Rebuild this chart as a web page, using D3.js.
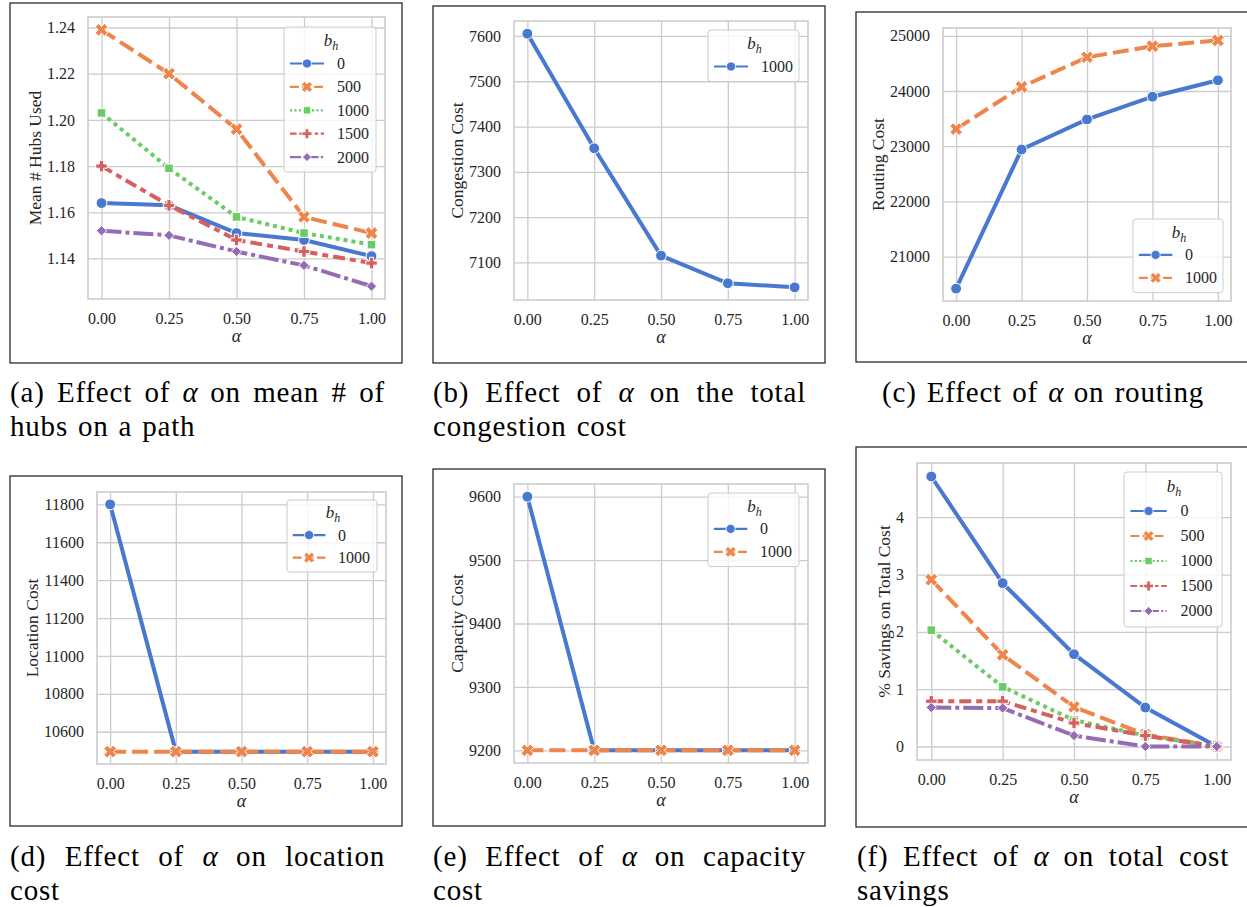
<!DOCTYPE html>
<html>
<head>
<meta charset="utf-8">
<script src="https://cdn.jsdelivr.net/npm/d3@7"></script>
<style>
  body { margin: 0; background: #fff; }
  svg { display: block; font-family: "Liberation Serif", "Times New Roman", serif; }
</style>
</head>
<body>
<svg id="fig" width="1247" height="907"></svg>
<script>
// ---- data ----
var alphaValues = [0, 0.25, 0.5, 0.75, 1.0];
var xTickValues = [0, 0.25, 0.5, 0.75, 1.0];

// (a) mean # hubs used
var hubsLevels = ["0", "500", "1000", "1500", "2000"];
var hubs0    = [1.164, 1.163, 1.151, 1.148, 1.141];
var hubs500  = [1.239, 1.220, 1.196, 1.158, 1.151];
var hubs1000 = [1.203, 1.179, 1.158, 1.151, 1.146];
var hubs1500 = [1.180, 1.163, 1.148, 1.143, 1.138];
var hubs2000 = [1.152, 1.150, 1.143, 1.137, 1.128];
var hubsTicks = [1.14, 1.16, 1.18, 1.20, 1.22, 1.24];

// (b) congestion cost
var congestionLevels = ["1000"];
var congestion1000 = [7605, 7352, 7115, 7054, 7045];
var congestionTicks = [7100, 7200, 7300, 7400, 7500, 7600];

// (c) routing cost
var routingLevels = ["0", "1000"];
var routing0    = [20420, 22940, 23485, 23897, 24195];
var routing1000 = [23310, 24075, 24612, 24812, 24917];
var routingTicks = [21000, 22000, 23000, 24000, 25000];

// (d) location cost
var locationLevels = ["0", "1000"];
var location0    = [11800, 10495, 10495, 10495, 10495];
var location1000 = [10495, 10495, 10495, 10495, 10495];
var locationTicks = [10600, 10800, 11000, 11200, 11400, 11600, 11800];

// (e) capacity cost
var capacityLevels = ["0", "1000"];
var capacity0    = [9600, 9200, 9200, 9200, 9200];
var capacity1000 = [9200, 9200, 9200, 9200, 9200];
var capacityTicks = [9200, 9300, 9400, 9500, 9600];

// (f) % savings on total cost
var savingsLevels = ["0", "500", "1000", "1500", "2000"];
var savings0    = [4.71, 2.85, 1.61, 0.68, 0.0];
var savings500  = [2.91, 1.60, 0.69, 0.21, 0.0];
var savings1000 = [2.03, 1.04, 0.46, 0.19, 0.0];
var savings1500 = [0.79, 0.79, 0.41, 0.19, 0.0];
var savings2000 = [0.68, 0.67, 0.19, 0.0, 0.0];
var savingsTicks = [0, 1, 2, 3, 4];

// ---- style (seaborn muted / default dashes & markers) ----
var colours = ["#4878d0", "#ee854a", "#6acc64", "#d65f5f", "#956cb4"];
var dashUnits = [null, [4, 1.5], [1, 1], [3, 1.25, 1.5, 1.25], [5, 1, 1, 1]];
var markerTypes = ["o", "X", "s", "P", "D"];
var textCol = "#262626";
var gridCol = "#cccccc";

var svg = d3.select("#fig");

function markerPath(type, k) {
  if (type == "o") { var r = 5.4 * k; return d3.symbol(d3.symbolCircle, Math.PI * r * r)(); }
  if (type == "s") { var s = 4.3 * k; return "M" + (-s) + "," + (-s) + "H" + s + "V" + s + "H" + (-s) + "Z"; }
  if (type == "D") { var d = 5.2 * k; return "M0," + (-d) + "L" + d + ",0L0," + d + "L" + (-d) + ",0Z"; }
  var a = (type == "X" ? 6.6 : 5.8) * k, w = a * 0.36;
  var pts = [[-w,-a],[w,-a],[w,-w],[a,-w],[a,w],[w,w],[w,a],[-w,a],[-w,w],[-a,w],[-a,-w],[-w,-w]];
  if (type == "X") pts = pts.map(function(p) { return [(p[0] - p[1]) / Math.SQRT2, (p[0] + p[1]) / Math.SQRT2]; });
  return "M" + pts.map(function(p) { return p[0].toFixed(2) + "," + p[1].toFixed(2); }).join("L") + "Z";
}

function dashFor(i, lw) {
  return dashUnits[i] ? dashUnits[i].map(function(v) { return v * lw; }).join(",") : null;
}

function drawPanel(p) {
  var g = svg.append("g");
  // figure frame
  g.append("rect")
    .attr("x", p.frame[0]).attr("y", p.frame[1])
    .attr("width", p.frame[2] - p.frame[0]).attr("height", p.frame[3] - p.frame[1])
    .attr("fill", "#fff").attr("stroke", "#2a2a2a").attr("stroke-width", 1.3);

  var ax = p.ax;
  var all = d3.merge(p.series);
  var lo = d3.min(all), hi = d3.max(all), pad = (hi - lo) * 0.05;
  var x = d3.scaleLinear().domain([-0.05, 1.05]).range([ax[0], ax[2]]);
  var y = d3.scaleLinear().domain([lo - pad, hi + pad]).range([ax[3], ax[1]]);

  // x axis + vertical grid
  var gx = g.append("g")
    .attr("transform", "translate(0," + ax[3] + ")")
    .call(d3.axisBottom(x).tickValues(xTickValues).tickFormat(d3.format(".2f"))
      .tickSizeInner(-(ax[3] - ax[1])).tickSizeOuter(0).tickPadding(13.5));
  // y axis + horizontal grid
  var gy = g.append("g")
    .attr("transform", "translate(" + ax[0] + ",0)")
    .call(d3.axisLeft(y).tickValues(p.yTicks).tickFormat(p.yFormat)
      .tickSizeInner(-(ax[2] - ax[0])).tickSizeOuter(0).tickPadding(13));
  [gx, gy].forEach(function(a) {
    a.select(".domain").remove();
    a.selectAll("line").attr("stroke", gridCol).attr("stroke-width", 1.3);
    a.selectAll("text").attr("fill", textCol).attr("font-size", 16)
      .attr("font-family", "Liberation Serif, serif");
  });

  // spines
  g.append("rect")
    .attr("x", ax[0]).attr("y", ax[1]).attr("width", ax[2] - ax[0]).attr("height", ax[3] - ax[1])
    .attr("fill", "none").attr("stroke", gridCol).attr("stroke-width", 1.6);

  // series: line then markers, in hue order
  var line = d3.line().x(function(d, i) { return x(alphaValues[i]); }).y(function(d) { return y(d); });
  p.series.forEach(function(vals, si) {
    g.append("path")
      .attr("d", line(vals))
      .attr("fill", "none")
      .attr("stroke", colours[si])
      .attr("stroke-width", 4)
      .attr("stroke-dasharray", dashFor(si, 4));
    g.selectAll(null)
      .data(vals)
      .enter().append("path")
      .attr("transform", function(d, i) { return "translate(" + x(alphaValues[i]) + "," + y(d) + ")"; })
      .attr("d", markerPath(markerTypes[si], 1))
      .attr("fill", colours[si])
      .attr("stroke", "#fff").attr("stroke-width", 1);
  });

  // axis labels
  g.append("text")
    .attr("x", (ax[0] + ax[2]) / 2).attr("y", ax[3] + 43)
    .attr("text-anchor", "middle").attr("font-size", 18).attr("font-style", "italic")
    .attr("fill", textCol).text("α");
  var bb = gy.node().getBBox();
  var lx = ax[0] + bb.x - 6;
  var ly = (ax[1] + ax[3]) / 2;
  g.append("text")
    .attr("transform", "translate(" + lx + "," + ly + ") rotate(-90)")
    .attr("text-anchor", "middle").attr("font-size", 17.5)
    .attr("fill", textCol).text(p.yLabel);

  // legend
  var L = p.legend, k = L.rowH / 23.4, n = p.levels.length;
  var boxH = 36.5 * k + (n - 1) * L.rowH + 15 * k;
  var lg = g.append("g").attr("transform", "translate(" + L.x + "," + L.y + ")");
  lg.append("rect")
    .attr("width", L.w).attr("height", boxH).attr("rx", 3)
    .attr("fill", "#fff").attr("fill-opacity", 0.8)
    .attr("stroke", gridCol).attr("stroke-width", 1);
  var title = lg.append("text")
    .attr("x", L.w / 2 + 1).attr("y", 19 * k)
    .attr("text-anchor", "middle").attr("font-size", 17).attr("fill", textCol);
  title.append("tspan").attr("font-style", "italic").text("b");
  title.append("tspan").attr("font-style", "italic").attr("font-size", 12).attr("dy", 4).text("h");
  p.levels.forEach(function(lev, i) {
    var ry = 36.5 * k + i * L.rowH;
    lg.append("line")
      .attr("x1", 6 * k).attr("x2", 40 * k).attr("y1", ry).attr("y2", ry)
      .attr("stroke", colours[i]).attr("stroke-width", 2.2)
      .attr("stroke-dasharray", dashFor(i, 2.2));
    lg.append("path")
      .attr("transform", "translate(" + (23 * k) + "," + ry + ")")
      .attr("d", markerPath(markerTypes[i], 0.85))
      .attr("fill", colours[i]).attr("stroke", "#fff").attr("stroke-width", 0.8);
    lg.append("text")
      .attr("x", 53 * k).attr("y", ry + 5.5)
      .attr("font-size", 16).attr("fill", textCol).text(lev);
  });
}

// caption lines, justified like LaTeX subcaptions
function captionLine(words, x0, x1, yb, justify) {
  var nodes = words.map(function(w) {
    return svg.append("text").attr("y", yb).attr("font-size", 29).attr("fill", "#000")
      .attr("letter-spacing", w == "α" ? 0 : 0.8)
      .attr("font-style", w == "α" ? "italic" : null).text(w);
  });
  var widths = nodes.map(function(nd) { return nd.node().getComputedTextLength(); });
  var gap = justify ? (x1 - x0 - d3.sum(widths)) / (words.length - 1) : 10;
  var cx = x0;
  nodes.forEach(function(nd, i) { nd.attr("x", cx); cx += widths[i] + gap; });
}

var fmt2 = d3.format(".2f"), fmt0 = d3.format("d");

drawPanel({
  frame: [10, 3, 402, 363], ax: [88, 17, 385, 299],
  series: [hubs0, hubs500, hubs1000, hubs1500, hubs2000], levels: hubsLevels,
  yTicks: hubsTicks, yFormat: fmt2, yLabel: "Mean # Hubs Used",
  legend: { x: 284, y: 27, w: 92, rowH: 23.4 }
});
drawPanel({
  frame: [433, 6, 825, 363], ax: [514, 21, 808, 300],
  series: [congestion1000], levels: congestionLevels,
  yTicks: congestionTicks, yFormat: fmt0, yLabel: "Congestion Cost",
  legend: { x: 708, y: 30, w: 91, rowH: 23.4 }
});
drawPanel({
  frame: [856, 12, 1260, 362], ax: [943, 28, 1231, 301],
  series: [routing0, routing1000], levels: routingLevels,
  yTicks: routingTicks, yFormat: fmt0, yLabel: "Routing Cost",
  legend: { x: 1133, y: 219, w: 90, rowH: 23 }
});
drawPanel({
  frame: [10, 476, 402, 826], ax: [97, 492, 386, 764],
  series: [location0, location1000], levels: locationLevels,
  yTicks: locationTicks, yFormat: fmt0, yLabel: "Location Cost",
  legend: { x: 287, y: 500, w: 90, rowH: 22.5 }
});
drawPanel({
  frame: [433, 469, 825, 826], ax: [514, 484, 808, 763],
  series: [capacity0, capacity1000], levels: capacityLevels,
  yTicks: capacityTicks, yFormat: fmt0, yLabel: "Capacity Cost",
  legend: { x: 708, y: 493, w: 91, rowH: 23 }
});
drawPanel({
  frame: [856, 447, 1260, 827], ax: [917, 463, 1231, 760],
  series: [savings0, savings500, savings1000, savings1500, savings2000], levels: savingsLevels,
  yTicks: savingsTicks, yFormat: fmt0, yLabel: "% Savings on Total Cost",
  legend: { x: 1124, y: 472, w: 98, rowH: 25 }
});

// captions
captionLine(["(a)", "Effect", "of", "α", "on", "mean", "#", "of"], 10, 385, 402, true);
captionLine(["hubs", "on", "a", "path"], 10, 0, 436, false);
captionLine(["(b)", "Effect", "of", "α", "on", "the", "total"], 433, 806, 402, true);
captionLine(["congestion", "cost"], 433, 0, 436, false);
captionLine(["(c)", "Effect", "of", "α", "on", "routing"], 882, 1204, 402, true);
captionLine(["(d)", "Effect", "of", "α", "on", "location"], 10, 385, 866, true);
captionLine(["cost"], 10, 0, 900, false);
captionLine(["(e)", "Effect", "of", "α", "on", "capacity"], 433, 806, 866, true);
captionLine(["cost"], 433, 0, 900, false);
captionLine(["(f)", "Effect", "of", "α", "on", "total", "cost"], 857, 1229, 866, true);
captionLine(["savings"], 857, 0, 900, false);
</script>
</body>
</html>
